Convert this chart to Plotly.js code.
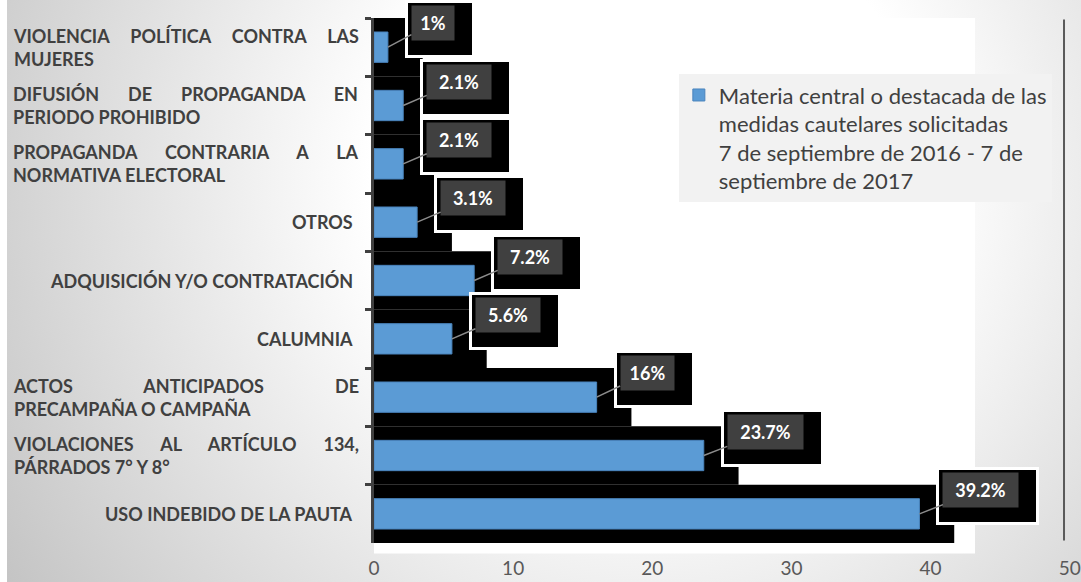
<!DOCTYPE html>
<html>
<head>
<meta charset="utf-8">
<script src="https://cdn.plot.ly/plotly-3.0.1.min.js"></script>
<style>
html,body{margin:0;padding:0;background:#fff;}
#chart{width:1081px;height:582px;background:
  linear-gradient(to right,#fff 0,#fff 7px,transparent 7px),
  radial-gradient(circle at 650px 180px,#fff 0,#fff 280px,#c4c4c4 760px);}
</style>
</head>
<body>
<div id="chart"></div>
<script>
// ---- data ----
const categories = [
  'VIOLENCIA POLÍTICA CONTRA LAS<br>MUJERES',
  'DIFUSIÓN DE PROPAGANDA EN<br>PERIODO PROHIBIDO',
  'PROPAGANDA CONTRARIA A LA<br>NORMATIVA ELECTORAL',
  'OTROS',
  'ADQUISICIÓN Y/O CONTRATACIÓN',
  'CALUMNIA',
  'ACTOS ANTICIPADOS DE<br>PRECAMPAÑA O CAMPAÑA',
  'VIOLACIONES AL ARTÍCULO 134,<br>PÁRRADOS 7° Y 8°',
  'USO INDEBIDO DE LA PAUTA'
];
const values = [1, 2.1, 2.1, 3.1, 7.2, 5.6, 16, 23.7, 39.2];
const seriesName = 'Materia central o destacada de las<br>medidas cautelares solicitadas<br>7 de septiembre de 2016 - 7 de<br>septiembre de 2017';
const xTickValues = [0, 10, 20, 30, 40, 50];

// ---- style ----
const FONT = 'Lato, "Open Sans", sans-serif';
const BLUE = '#5b9bd5';
const SHADOW_PAD = 2.5;
const LABEL_GAP = 24, LABEL_RISE = 24, BOX_H = 34;
const LABEL_LEFT = -0.522, LABEL_RIGHT = -0.027, JUSTIFY_W = 345;

const shadowTrace = {
  type: 'bar', orientation: 'h',
  y: categories, x: values.map(v => v + SHADOW_PAD),
  width: 1, marker: {color: '#000', line: {width: 0}},
  showlegend: false, hoverinfo: 'skip'
};
const mainTrace = {
  type: 'bar', orientation: 'h', name: seriesName,
  y: categories, x: values, width: 0.52,
  marker: {color: BLUE, line: {color: '#4a84bd', width: 1}},
  hoverinfo: 'x+y'
};

const boxAnns = [], labelAnns = [], catAnns = [];
values.forEach((v, i) => {
  const txt = v + '%';
  const w = 20 + 11 * txt.length;
  boxAnns.push({
    x: v, y: categories[i], xref: 'x', yref: 'y', text: '\u00a0', showarrow: false,
    xanchor: 'left', yanchor: 'top', xshift: LABEL_GAP - 7, yshift: LABEL_RISE + BOX_H / 2 + 6,
    width: w + 22, height: 52, bgcolor: '#000', bordercolor: '#ffffff', borderwidth: 3, borderpad: 0
  });
  labelAnns.push({
    x: v, y: categories[i], xref: 'x', yref: 'y', text: '<b>' + txt + '</b>',
    showarrow: true, arrowhead: 0, arrowwidth: 1.5, arrowcolor: '#8c8c8c', standoff: 0,
    ax: LABEL_GAP + w / 2, ay: -LABEL_RISE, width: w, height: BOX_H,
    bgcolor: '#404040', borderpad: 0, font: {family: FONT, size: 18, color: '#ffffff'}
  });
});
const multiIdx = [];
categories.forEach((c, i) => {
  const multi = c.indexOf('<br>') >= 0;
  if (multi) multiIdx.push(boxAnns.length + labelAnns.length + catAnns.length);
  catAnns.push({
    x: multi ? LABEL_LEFT : LABEL_RIGHT, xref: 'paper', y: c, yref: 'y',
    text: '<b>' + c + '</b>', showarrow: false,
    xanchor: multi ? 'left' : 'right', yanchor: 'middle', align: multi ? 'left' : 'right',
    font: {family: FONT, size: 18, color: '#404040'}
  });
});

const layout = {
  width: 1081, height: 582,
  margin: {l: 374, r: 11, t: 18, b: 39},
  paper_bgcolor: 'rgba(0,0,0,0)', plot_bgcolor: 'rgba(0,0,0,0)',
  barmode: 'overlay',
  xaxis: {
    range: [0, 50.02], tickvals: xTickValues, showgrid: false, zeroline: false,
    showline: false, ticks: '', ticklabelstandoff: 12, ticklabeloverflow: 'allow',
    tickfont: {family: FONT, size: 19, color: '#595959'}
  },
  yaxis: {
    type: 'category', range: [categories.length - 0.5, -0.5],
    showticklabels: false, showgrid: false, zeroline: false,
    showline: true, linecolor: '#404040', linewidth: 3,
    ticks: 'outside', tickson: 'boundaries', ticklen: 6, tickwidth: 3, tickcolor: '#404040'
  },
  legend: {
    x: 0.438, y: 0.893, xanchor: 'left', yanchor: 'top',
    bgcolor: '#f2f2f2', valign: 'top',
    font: {family: FONT, size: 22, color: '#404040'}
  },
  shapes: [
    {type: 'rect', xref: 'paper', yref: 'paper', x0: 0, x1: 0.8635, y0: -0.02, y1: 1,
     fillcolor: '#ffffff', line: {width: 0}, layer: 'below'},
    {type: 'line', xref: 'paper', yref: 'paper', x0: 0.9914, x1: 0.9914, y0: 0.005, y1: 0.997,
     line: {color: '#5a5a5a', width: 2}}
  ],
  annotations: boxAnns.concat(labelAnns, catAnns)
};

Plotly.newPlot('chart', [shadowTrace, mainTrace], layout, {displayModeBar: false})
.then(gd => {
  multiIdx.forEach(idx => {
    const t = gd.querySelector('g.annotation[data-index="' + idx + '"] text.annotation-text');
    if (!t) return;
    const first = t.querySelector('tspan.line');
    if (!first) return;
    const len = first.getComputedTextLength();
    const gaps = (first.textContent.trim().match(/\s+/g) || []).length;
    if (gaps > 0 && len < JUSTIFY_W) {
      first.style.wordSpacing = ((JUSTIFY_W - len) / gaps) + 'px';
    }
  });
});
</script>
</body>
</html>
